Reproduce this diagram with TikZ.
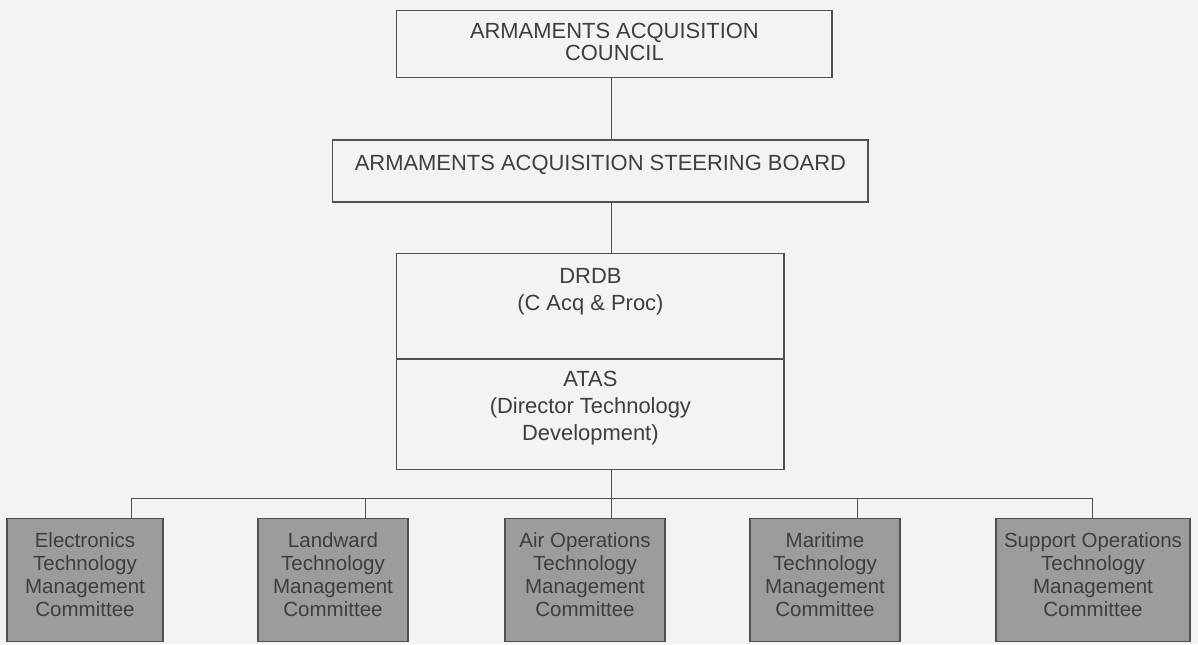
\documentclass[tikz,border=0pt]{standalone}
\usepackage{fontspec}
\setmainfont{Liberation Sans}
\definecolor{paper}{RGB}{243,243,241}
\definecolor{ink}{RGB}{62,62,62}
\definecolor{rule}{RGB}{80,80,80}
\definecolor{shade}{RGB}{156,156,156}
\usetikzlibrary{positioning}
\newcommand{\boxlines}[1]{\begin{tabular}[t]{@{}c@{}}#1\end{tabular}}
\tikzset{
  orgbox/.style={draw=rule,line width=0.8pt,inner xsep=0pt,inner ysep=0pt,
                 text=ink,font=\fontsize{15.6}{15.6}\selectfont},
  ctte/.style={orgbox,fill=shade,text=ink,font=\fontsize{14.6}{16.4}\selectfont,
               text height=0.725cm,text depth=2.35cm},
  link/.style={draw=rule,line width=0.7pt}
}

\begin{document}
\begin{tikzpicture}
  \fill[paper] (0,0) rectangle (29.95,-16.1);
  %% Council, board, DRDB / ATAS
  \node[orgbox,minimum width=10.88cm,text height=0.7cm,text depth=0.975cm]
        (aac) at (15.36,-1.09) {\boxlines{ARMAMENTS ACQUISITION\\COUNCIL}};
  \node[orgbox,minimum width=13.38cm,text height=0.75cm,text depth=0.8cm]
        (aasb) at (15.01,-4.275) {ARMAMENTS ACQUISITION STEERING BOARD};
  \node[orgbox,minimum width=9.68cm,text height=0.75cm,text depth=1.875cm,
        font=\fontsize{15.6}{19.2}\selectfont]
        (drdb) at (14.76,-7.64) {\boxlines{DRDB\\(C Acq \& Proc)}};
  \node[orgbox,minimum width=9.68cm,text height=0.675cm,text depth=2.075cm,
        font=\fontsize{15.6}{19.2}\selectfont,below=0pt of drdb]
        (atas) {\boxlines{ATAS\\(Director Technology\\Development)}};
  %% Committees
  \node[ctte,minimum width=3.9cm] (ctte1) at (2.125,-14.49)
        {\boxlines{Electronics\\Technology\\Management\\Committee}};
  \node[ctte,minimum width=3.75cm] (ctte2) at (8.325,-14.49)
        {\boxlines{Landward\\Technology\\Management\\Committee}};
  \node[ctte,minimum width=4.0cm] (ctte3) at (14.625,-14.49)
        {\boxlines{Air Operations\\Technology\\Management\\Committee}};
  \node[ctte,minimum width=3.75cm] (ctte4) at (20.625,-14.49)
        {\boxlines{Maritime\\Technology\\Management\\Committee}};
  \node[ctte,minimum width=4.85cm] (ctte5) at (27.325,-14.49)
        {\boxlines{Support Operations\\Technology\\Management\\Committee}};
  %% Connectors
  \coordinate (bus1) at (3.275,-12.45);
  \coordinate (bus2) at (9.125,-12.45);
  \coordinate (bus3) at (15.275,-12.45);
  \coordinate (bus4) at (21.425,-12.45);
  \coordinate (bus5) at (27.3,-12.45);
  \draw[link] (aac.south -| bus3) -- (aasb.north -| bus3);
  \draw[link] (aasb.south -| bus3) -- (drdb.north -| bus3);
  \draw[link] (atas.south -| bus3) -- (bus3 |- ctte3.north);
  \draw[link] (bus1) -- (bus5);
  \foreach \i in {1,2,4,5}
    \draw[link] (bus\i) -- (bus\i |- ctte\i.north);
\end{tikzpicture}
\end{document}
